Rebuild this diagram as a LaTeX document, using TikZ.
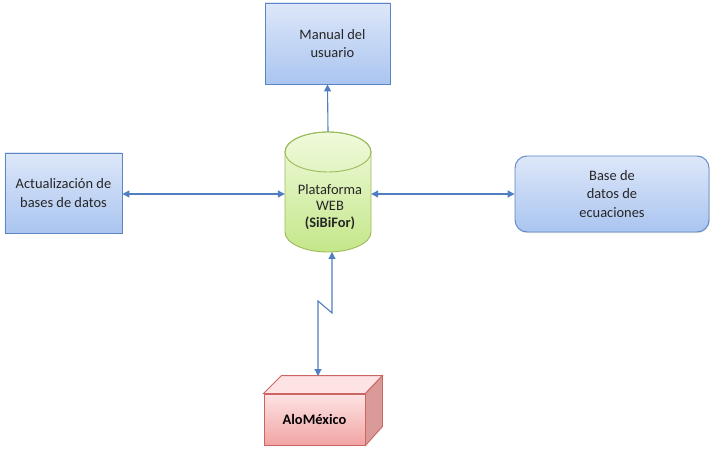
\documentclass[tikz,border=0pt]{standalone}
\usepackage{fontspec}
\setmainfont{Carlito}
\usetikzlibrary{arrows.meta,shadows}
\definecolor{bluetop}{HTML}{DDE7F9}
\definecolor{bluebot}{HTML}{AAC5F0}
\definecolor{blueline}{HTML}{5B86C5}
\definecolor{greentop}{HTML}{F0FADC}
\definecolor{greenbot}{HTML}{C4E78A}
\definecolor{greenline}{HTML}{9BBB59}
\definecolor{pinktop}{HTML}{FDE3E3}
\definecolor{pinkbot}{HTML}{F2A4A4}
\definecolor{pinkside}{HTML}{D99A98}
\definecolor{pinkline}{HTML}{CC6664}
\definecolor{arrowc}{HTML}{4F7FC0}
\definecolor{textc}{HTML}{262626}
\tikzset{
  bluebox/.style={draw=blueline, line width=0.9bp, top color=bluetop, bottom color=bluebot, align=center, text=textc, font=\fontsize{14.5}{18.5}\selectfont, drop shadow={shadow xshift=0.8bp, shadow yshift=-1.2bp, opacity=0.25}},
  conn/.style={draw=arrowc, line width=1.1bp, {Triangle[length=7bp,width=7bp]}-{Triangle[length=7bp,width=7bp]}},
  connone/.style={draw=arrowc, line width=1.1bp, -{Triangle[length=7bp,width=7bp]}},
}
\begin{document}
\begin{tikzpicture}[x=1bp,y=-1bp]
\useasboundingbox (0,0) rectangle (714,453);
% Manual
\node[bluebox, minimum width=125bp, minimum height=81bp, inner sep=0pt] (man) at (327.5,43.5) {\hspace*{10bp}Manual del\\\hspace*{10bp}usuario};
% Actualizacion
\node[bluebox, minimum width=117bp, minimum height=80bp, inner sep=0pt] (act) at (63.5,193) {Actualización de\\bases de datos};
% Base de datos
\node[bluebox, rounded corners=12bp, minimum width=194bp, minimum height=76bp, inner sep=0pt] (bdd) at (612,194) {Base de\\datos de\\ecuaciones};
% Cylinder
\path[draw=greenline, line width=0.9bp, top color=greentop, bottom color=greenbot]
  (285,152) -- (285,232) arc[start angle=180, end angle=0, x radius=43, y radius=20]
  -- (371,152) arc[start angle=0, end angle=-180, x radius=43, y radius=20] -- cycle;
\draw[greenline, line width=0.9bp] (328,152) ellipse[x radius=43, y radius=20];
\node[minimum width=86bp, minimum height=120bp, inner sep=0pt] (plat) at (328,192) {};
\node[align=center, text=textc, font=\fontsize{14.5}{16.5}\selectfont] (plattxt) at (330,207) {Plataforma\\WEB\\\textbf{(SiBiFor)}};
% AloMexico 3D box
\node[draw=pinkline, line width=0.9bp, top color=pinktop, bottom color=pinkbot, minimum width=101bp, minimum height=51bp, inner sep=0pt, font=\fontsize{14.5}{16}\selectfont\bfseries, text=black] (alo) at (314.5,419.5) {AloMéxico};
\path[draw=pinkline, line width=0.9bp, fill=pinktop] (alo.north west) -- ++(18,-18) -- ++(101,0) -- (alo.north east) -- cycle;
\path[draw=pinkline, line width=0.9bp, fill=pinkside] (alo.north east) -- ++(17,-18) -- ++(0,51) -- (alo.south east) -- cycle;
% connectors
\draw[connone] (plat.north) -- (man.south);
\draw[conn] (act.east |- 0,194) -- (plat.west |- 0,194);
\draw[conn] (plat.east |- 0,194) -- (bdd.west |- 0,194);
\coordinate (ltop) at (332,252);
\coordinate (lbot) at (318,376);
\draw[conn] (ltop) -- (332,313) -- (318,301) -- (lbot);
\end{tikzpicture}
\end{document}
